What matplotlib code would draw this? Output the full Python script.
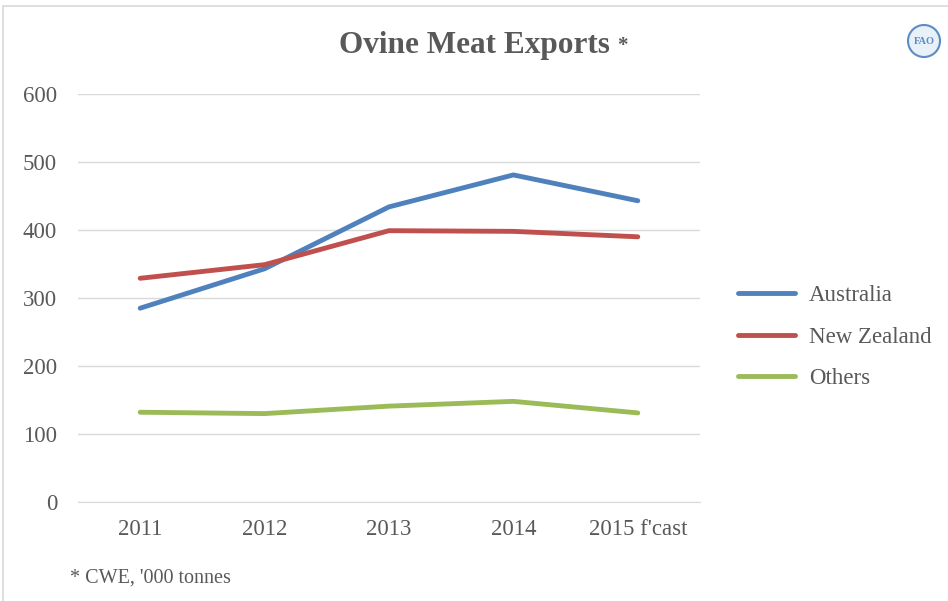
import matplotlib
matplotlib.use('Agg')
import matplotlib.pyplot as plt
from matplotlib.patches import Ellipse, Rectangle

# data
years = ['2011', '2012', '2013', '2014', "2015 f'cast"]
australia = [285, 343, 434, 481, 443]
new_zealand = [329, 349, 399, 398, 390]
others = [132, 130, 141, 148, 131]

plt.rcParams['font.family'] = ['Liberation Serif', 'DejaVu Serif']
grey = '#595959'
W, H = 948, 601

fig = plt.figure(figsize=(9.48, 6.01), dpi=100)
ax = fig.add_axes([78/W, 1 - 502/H, 622/W, 408/H])

x = range(len(years))
ax.plot(x, australia, color='#4F81BD', lw=3.5, solid_capstyle='round', label='Australia')
ax.plot(x, new_zealand, color='#C0504D', lw=3.5, solid_capstyle='round', label='New Zealand')
ax.plot(x, others, color='#9BBB59', lw=3.5, solid_capstyle='round', label='Others')

ax.set_xlim(-0.5, len(years) - 0.5)
ax.set_ylim(0, 600)
ax.set_yticks(range(0, 601, 100))
ax.set_xticks(list(x))
ax.set_xticklabels(years)
ax.grid(axis='y', color='#D9D9D9', lw=1)
ax.set_axisbelow(True)
for s in ['top', 'right', 'left']:
    ax.spines[s].set_visible(False)
ax.spines['bottom'].set_color('#D9D9D9')
ax.tick_params(length=0, labelsize=16.5, labelcolor=grey)
ax.tick_params(axis='y', pad=15)
ax.tick_params(axis='x', pad=12)

leg = fig.legend(loc='center left', bbox_to_anchor=(738/W, 1 - 337/H), frameon=False,
                 fontsize=16.5, handlelength=2.5, labelspacing=0.9, handletextpad=0.6,
                 borderaxespad=0, borderpad=0)
for t in leg.get_texts():
    t.set_color(grey)

# title
fig.text(474/W, 1 - 46/H, 'Ovine Meat Exports', ha='center', va='center',
         fontsize=22.5, fontweight='bold', color=grey)
fig.text(622/W, 1 - 46/H, '*', ha='center', va='center',
         fontsize=15, fontweight='bold', color=grey)

# footnote
fig.text(70/W, 1 - 578/H, "* CWE, '000 tonnes", ha='left', va='center',
         fontsize=14.5, color=grey)

# chart border
fig.patches.append(Rectangle((3/W, -0.1), 1.2, 1.1 - 6/H, transform=fig.transFigure,
                             fill=False, edgecolor='#D9D9D9', lw=1.2))

# small logo
fig.patches.append(Ellipse((924/W, 1 - 41/H), 32/W, 32/H, transform=fig.transFigure,
                           facecolor='#E8F0F8', edgecolor='#5B8CC6', lw=1.5))
fig.text(924/W, 1 - 41/H, 'FAO', ha='center', va='center', fontsize=7.5,
         fontweight='bold', color='#5B8CC6')

fig.savefig('out.png', dpi=100)
